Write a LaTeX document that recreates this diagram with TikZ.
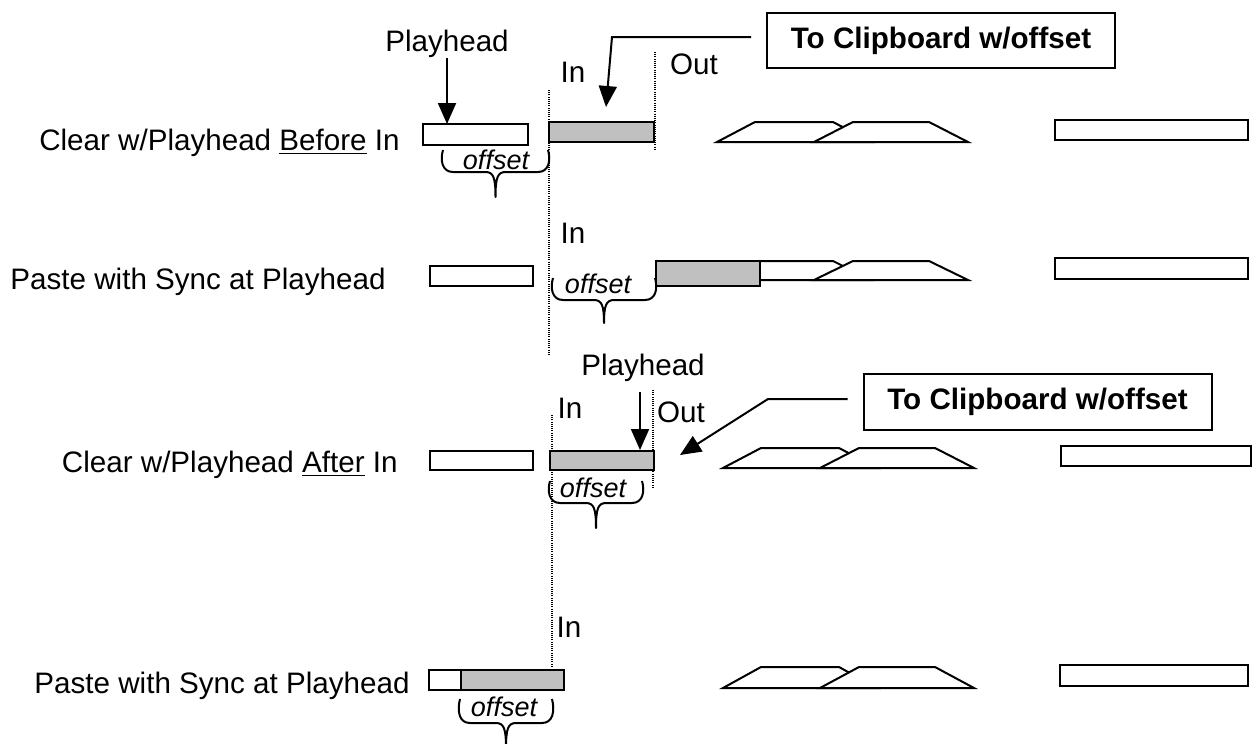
\documentclass[tikz,border=0pt]{standalone}
\usepackage{fontspec}
\setmainfont{Liberation Sans}
\usepackage{tikz}
\usetikzlibrary{arrows.meta,positioning}
\definecolor{clipgray}{HTML}{C0C0C0}
\tikzset{
  rowlabel/.style={font=\fontsize{14.8}{17}\selectfont,inner sep=0pt,anchor=base east},
  marklabel/.style={font=\fontsize{14.8}{17}\selectfont,inner sep=0pt},
  offlabel/.style={font=\fontsize{13.5}{16}\selectfont\itshape,inner sep=0pt},
  clipnote/.style={draw,line width=1pt,font=\fontsize{14.8}{17}\selectfont\bfseries,minimum width=174pt,minimum height=27.5pt,inner sep=0pt},
  clipbox/.style={draw,line width=1pt,fill=white},
  selbox/.style={draw,line width=1pt,fill=clipgray},
  edgemark/.style={line width=0.6pt,dash pattern=on 0.5pt off 0.6pt},
  headarrow/.style={-{Triangle[length=10.5pt,width=9pt]},line width=1pt},
  bracepath/.style={line width=1pt,line join=round},
  trap/.style={draw,line width=1pt,fill=white}
}
% offset brace: left, right, top, level, tip
\newcommand\offsetbrace[5]{%
  \pgfmathsetmacro\bmid{(#1+#2)/2}
  \draw[bracepath] (#1,#3) .. controls (#1-3,#4-12) and (#1-1,#4) .. (#1+10,#4) -- (\bmid-10,#4)
    .. controls (\bmid-2,#4) and (\bmid,#4+6) .. (\bmid,#5) .. controls (\bmid,#4+6) and (\bmid+2,#4) .. (\bmid+10,#4)
    -- (#2-10,#4) .. controls (#2+1,#4) and (#2+3,#4-12) .. (#2,#3);}

\begin{document}
\begin{tikzpicture}[x=0.5pt,y=-0.5pt]
\useasboundingbox (0,0) rectangle (1253,744);
% clips to the right
\foreach \dx/\ty/\by in {0/122/142,0/261/280,6/448/468,6/667/688}{
  \draw[trap] (717+\dx,\by) -- (755+\dx,\ty) -- (833+\dx,\ty) -- (871+\dx,\by) -- cycle;
  \draw[trap] (814+\dx,\by) -- (853+\dx,\ty) -- (929+\dx,\ty) -- (968+\dx,\by) -- cycle;
}
\foreach \xa/\ya/\xb/\yb in {1055/120/1248/140,1055/258/1248/279,1061/446/1251/466,1060/665/1248/686}{
  \draw[clipbox] (\xa,\ya) rectangle (\xb,\yb);
}
% in/out marks
\draw[edgemark] (549,90) -- (549,355);
\draw[edgemark] (655,52) -- (655,150);
\draw[edgemark] (552,415) -- (552,667);
\draw[edgemark] (653,390) -- (653,487);

% row 1
\node[rowlabel] (row1) at (400,150) {Clear w/Playhead \underline{Before} In};
\draw[clipbox] (423,124) rectangle (528,145);
\draw[selbox] (549,122) rectangle (654,142);
\node[marklabel] (ph1) at (447,44) {Playhead};
\node[marklabel] (in1) at (573,72) {In};
\node[marklabel] (out1) at (694,64) {Out};
\node[clipnote] (clip1) at (941,40.5) {To Clipboard w/offset};
\coordinate (tip1) at (447,124);
\draw[headarrow] (ph1.south) -- (tip1);
\coordinate (c1b) at (612,37);
\coordinate (c1tip) at (606,107);
\draw[headarrow] (clip1.west |- c1b) ++(-15,0) -- (c1b) -- (c1tip);
\offsetbrace{443}{548}{150}{172}{197}
\node[offlabel] (off1) at (496,160) {offset};

% row 2
\node[rowlabel] (row2) at (386,289) {Paste with Sync at Playhead};
\draw[clipbox] (430,266) rectangle (533,286);
\draw[selbox] (656,261) rectangle (760,286);
\node[marklabel] (in2) at (573,233) {In};
\offsetbrace{553}{655}{278}{300}{323}
\node[offlabel] (off2) at (598,284) {offset};

% row 3
\node[rowlabel] (row3) at (398,472) {Clear w/Playhead \underline{After} In};
\draw[clipbox] (430,451) rectangle (533,470);
\draw[selbox] (550,451) rectangle (654,470);
\node[marklabel] (ph3) at (643,368) {Playhead};
\node[marklabel] (in3) at (570,408) {In};
\node[marklabel] (out3) at (681,412) {Out};
\node[clipnote,minimum height=28pt] (clip3) at (1037.5,402) {To Clipboard w/offset};
\coordinate (tip3) at (640,450);
\draw[headarrow] (ph3.south -| tip3) ++(0,10) -- (tip3);
\coordinate (c3b) at (768,399);
\coordinate (c3tip) at (680,455);
\draw[headarrow] (clip3.west |- c3b) ++(-15,0) -- (c3b) -- (c3tip);
\offsetbrace{550}{642}{481}{503}{528}
\node[offlabel] (off3) at (593,488) {offset};

% row 4
\node[rowlabel] (row4) at (410,693) {Paste with Sync at Playhead};
\draw[clipbox] (429,670) rectangle (461,690);
\draw[selbox] (461,670) rectangle (564,690);
\node[marklabel] (in4) at (569,627) {In};
\offsetbrace{460}{552}{699}{723}{748}
\node[offlabel] (off4) at (504,707) {offset};
\end{tikzpicture}
\end{document}
